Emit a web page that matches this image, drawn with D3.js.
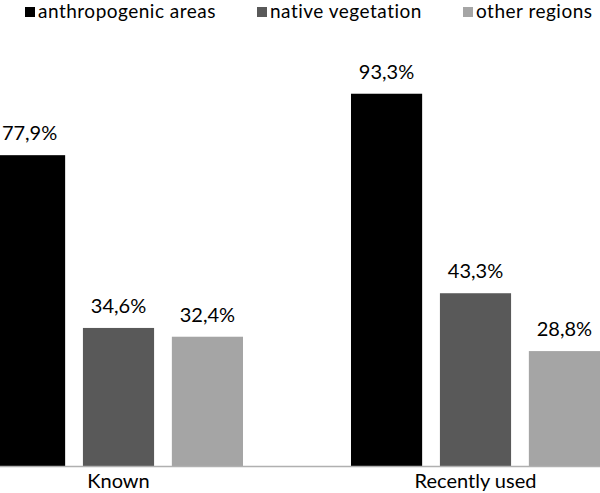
<!DOCTYPE html>
<html>
<head>
<meta charset="utf-8">
<script src="https://cdn.jsdelivr.net/npm/d3@7"></script>
<style>
  body { margin: 0; background: #fff; }
  svg { display: block; }
</style>
</head>
<body>
<svg id="chart" width="600" height="493"></svg>
<script>
const categories = ['Known', 'Recently used']
const series = ['anthropogenic areas', 'native vegetation', 'other regions']
const colors = ['#000000', '#595959', '#a5a5a5']
const anthropogenic = [77.9, 93.3]
const nativeVeg = [34.6, 43.3]
const otherRegions = [32.4, 28.8]

const values = [anthropogenic, nativeVeg, otherRegions]
const data = categories.map((c, i) => ({
  category: c,
  bars: series.map((s, j) => ({ series: s, value: values[j][i] })),
}))

const width = 600
const height = 493
const fontFamily = 'Lato, "Open Sans", sans-serif'

const svg = d3.select('#chart')

const x0 = d3.scaleBand()
  .domain(categories)
  .range([-6, width])
  .paddingInner(0.3025)
  .paddingOuter(0)

const x1 = d3.scaleBand()
  .domain(series)
  .range([0, x0.bandwidth()])
  .paddingInner(0.2)
  .paddingOuter(0)

const y = d3.scaleLinear().domain([0, 100]).range([466, 67])

const color = d3.scaleOrdinal().domain(series).range(colors)

const fmt = (v) => d3.format('.1f')(v).replace('.', ',') + '%'

// bars
const groups = svg.append('g')
  .selectAll('g')
  .data(data)
  .join('g')
  .attr('transform', (d) => `translate(${x0(d.category)},0)`)

groups.selectAll('rect')
  .data((d) => d.bars)
  .join('rect')
  .attr('x', (d) => x1(d.series))
  .attr('y', (d) => y(d.value))
  .attr('width', x1.bandwidth())
  .attr('height', (d) => y(0) - y(d.value))
  .attr('fill', (d) => color(d.series))

groups.selectAll('text')
  .data((d) => d.bars)
  .join('text')
  .attr('x', (d) => x1(d.series) + x1.bandwidth() / 2)
  .attr('y', (d) => y(d.value) - 15)
  .attr('text-anchor', 'middle')
  .attr('font-family', fontFamily)
  .attr('font-size', 20)
  .attr('fill', '#000')
  .text((d) => fmt(d.value))

// x axis
const xAxis = svg.append('g')
  .attr('transform', `translate(0,${y(0)})`)
  .call(d3.axisBottom(x0).tickSize(0).tickPadding(8))

xAxis.select('.domain')
  .attr('d', `M0,0.5H${width}`)
  .attr('stroke', '#b0b0b0')
  .attr('stroke-width', 1.5)

xAxis.selectAll('text')
  .attr('font-family', fontFamily)
  .attr('font-size', 20)
  .attr('fill', '#000')
  .attr('dy', '0.71em')

// legend
const legendX = [25, 257, 463]
const legend = svg.append('g')
  .selectAll('g')
  .data(series)
  .join('g')
  .attr('transform', (d, i) => `translate(${legendX[i]},7)`)

legend.append('rect')
  .attr('width', 10)
  .attr('height', 10)
  .attr('fill', (d) => color(d))

legend.append('text')
  .attr('x', 13)
  .attr('y', 11)
  .attr('font-family', fontFamily)
  .attr('font-size', 19)
  .attr('letter-spacing', 0.5)
  .attr('fill', '#000')
  .text((d) => d)
</script>
</body>
</html>
